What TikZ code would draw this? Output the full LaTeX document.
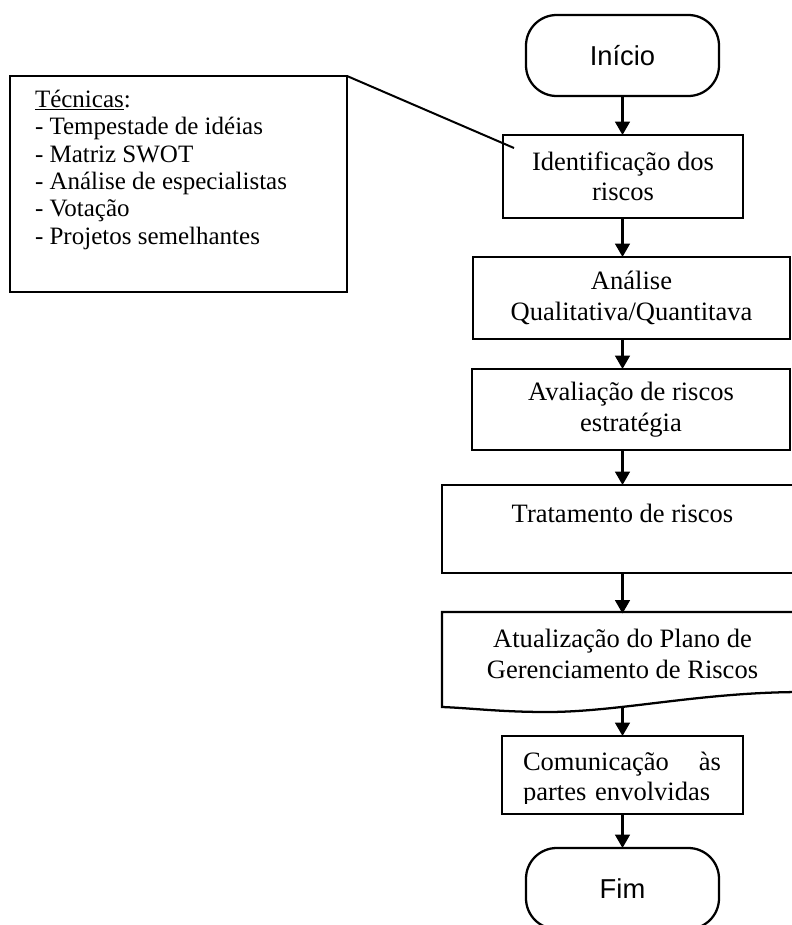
\documentclass[tikz,border=0pt]{standalone}
\usepackage{fontspec}
\setmainfont{Liberation Serif}
\newfontfamily\headfont{Liberation Sans}
\usetikzlibrary{arrows.meta}
\begin{document}
\begin{tikzpicture}[x=0.75pt,y=-0.75pt,
  every node/.style={inner sep=0pt, outer sep=0pt},
  border/.style={draw=black, line width=1.7pt},
  boxfont/.style={font=\fontsize{19.9}{22.9}\selectfont},
  stepbox/.style={border, rectangle, align=center, boxfont},
  terminal/.style={border, rectangle, rounded corners=23pt,
    minimum width=144.75pt, minimum height=60.75pt,
    font=\headfont\fontsize{20.5}{23}\selectfont},
  flow/.style={line width=1.7pt, -{Triangle[length=10pt,width=11pt]}},
  callout/.style={line width=1.5pt}]

\useasboundingbox (0,0) rectangle (792,925);
\clip (0,0) rectangle (792,925);

% main flow
\node[terminal] (start) at (622.5,55.5) {Início};
\node[stepbox, minimum width=180pt, minimum height=62.25pt] (ident) at (623,176.5)
  {Identificação dos\\riscos};
\node[stepbox, minimum width=237.75pt, minimum height=61.5pt] (anal) at (631.5,298)
  {Análise\\Qualitativa/Quantitava};
\node[stepbox, minimum width=238.5pt, minimum height=60.75pt] (aval) at (631,409.5)
  {Avaliação de riscos\\estratégia};
\node[stepbox, minimum width=270.75pt, minimum height=66pt] (trat) at (622.5,529)
  {Tratamento de riscos\\\mbox{}};

% document shape with wavy bottom edge
\draw[border, line join=miter] (442,612) -- (803,612) -- (803,692)
  .. controls (700,692) and (620,712) .. (547,712)
  .. controls (500,712) and (470,708) .. (442,707) -- cycle;
\node[boxfont, align=center, minimum width=270.75pt, minimum height=60.75pt] (atual)
  at (622.5,654) {Atualização do Plano de\\Gerenciamento de Riscos};
\coordinate (atualbot) at (622.5,708);

\node[border, minimum width=180.75pt, minimum height=58.5pt] (comm) at (622.5,775) {};
\begin{scope}
  \clip (502,736) rectangle (743,803);
  \node[boxfont, text width=148.5pt, align=left] (commtext) at (622,779)
    {Comunicação\hfill às\\partes envolvidas};
\end{scope}

\node[terminal] (fim) at (622.5,888.5) {Fim};

% techniques box and its callout line
\node[border, minimum width=252.75pt, minimum height=162pt] (tech) at (178.5,184) {};
\node[anchor=north west, align=left, font=\fontsize{18.75}{20.55}\selectfont] (techlist)
  at (35,90) {\underline{Técnicas}:\\- Tempestade de idéias\\- Matriz SWOT\\- Análise de especialistas\\- Votação\\- Projetos semelhantes};
\coordinate (calloutend) at (514,148);
\draw[callout] (tech.north east) -- (calloutend);

% connectors
\draw[flow] (start.south) -- (start.south |- ident.north);
\draw[flow] (ident.south -| start.south) -- (anal.north -| start.south);
\draw[flow] (anal.south -| start.south) -- (aval.north -| start.south);
\draw[flow] (aval.south -| start.south) -- (trat.north -| start.south);
\draw[flow] (trat.south -| start.south) -- (atual.north -| start.south);
\draw[flow] (atualbot) -- (comm.north -| atualbot);
\draw[flow] (comm.south -| start.south) -- (fim.north -| start.south);
\end{tikzpicture}
\end{document}
